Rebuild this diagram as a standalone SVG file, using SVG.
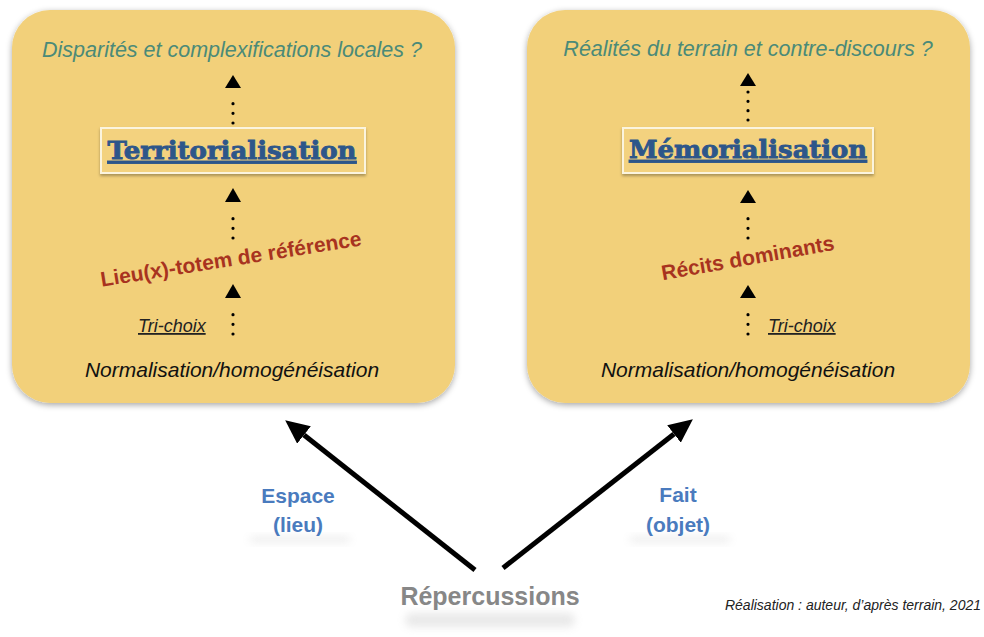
<svg xmlns="http://www.w3.org/2000/svg" width="984" height="637" viewBox="0 0 984 637">
  <defs>
    <filter id="boxShadow" x="-10%" y="-10%" width="120%" height="120%">
      <feDropShadow dx="0" dy="2" stdDeviation="3" flood-color="#000" flood-opacity="0.35"/>
    </filter>
    <filter id="titleShadow" x="-10%" y="-20%" width="120%" height="160%">
      <feDropShadow dx="0" dy="2" stdDeviation="1.5" flood-color="#000" flood-opacity="0.3"/>
    </filter>
    <filter id="blur" x="-20%" y="-100%" width="140%" height="300%">
      <feGaussianBlur stdDeviation="4"/>
    </filter>
    <marker id="bigHead" viewBox="0 -11 24 22" refX="0" refY="0" markerWidth="24" markerHeight="22" markerUnits="userSpaceOnUse" orient="auto">
      <path d="M0,-11 L24,0 L0,11 z" fill="#000"/>
    </marker>
    <style>
      .box { fill: #F2D07A; filter: url(#boxShadow); }
      .tbox { fill: #F3D27F; stroke: #FBF4DE; stroke-width: 2; filter: url(#titleShadow); }
      .q { font-family: "Liberation Sans", Arial, sans-serif; font-style: italic; font-size: 21.5px; fill: #4B8A78; text-anchor: middle; }
      .norm { font-family: "Liberation Sans", Arial, sans-serif; font-style: italic; font-size: 21px; fill: #111; text-anchor: middle; }
      .tri { font-family: "Liberation Sans", Arial, sans-serif; font-style: italic; font-size: 18px; fill: #222; text-decoration: underline; }
      .title { font-family: "DejaVu Serif", "Liberation Serif", serif; font-weight: bold; font-size: 25px; fill: #2D568A; stroke: #2D568A; stroke-width: 0.9; text-anchor: middle; text-decoration: underline; }
      .red { font-family: "Liberation Sans", Arial, sans-serif; font-weight: bold; font-size: 21px; fill: #A8331F; text-anchor: middle; }
      .blue { font-family: "Liberation Sans", Arial, sans-serif; font-weight: bold; font-size: 21px; fill: #4A7BBE; text-anchor: middle; }
      .rep { font-family: "Liberation Sans", Arial, sans-serif; font-weight: bold; font-size: 25px; fill: #878787; text-anchor: middle; }
      .credit { font-family: "Liberation Sans", Arial, sans-serif; font-style: italic; font-size: 14px; fill: #222; text-anchor: end; }
      .dots { stroke: #000; stroke-width: 3.2; stroke-linecap: round; fill: none; }
      .tri-head { fill: #000; }
      .big { stroke: #000; stroke-width: 5; fill: none; marker-end: url(#bigHead); }
      .refl { fill: #9a9a9a; opacity: 0.22; filter: url(#blur); }
    </style>
  </defs>

  <rect width="984" height="637" fill="#ffffff"/>

  <!-- Left panel -->
  <g id="panel-territorialisation">
    <rect class="box" x="12" y="10" width="443" height="393" rx="38" ry="38"/>
    <text class="q" x="232" y="57">Disparités et complexifications locales ?</text>
    <g id="node-territorialisation">
      <rect class="tbox" x="101" y="128" width="264" height="45"/>
      <text class="title" x="232" y="159" textLength="249" lengthAdjust="spacingAndGlyphs">Territorialisation</text>
    </g>
    <text class="red" x="232" y="266" transform="rotate(-9 232 266)">Lieu(x)-totem de référence</text>
    <text class="tri" x="138" y="332">Tri-choix</text>
    <text class="norm" x="232" y="377">Normalisation/homogénéisation</text>
  </g>

  <!-- Right panel -->
  <g id="panel-memorialisation">
    <rect class="box" x="527" y="10" width="443" height="393" rx="38" ry="38"/>
    <text class="q" x="748" y="56">Réalités du terrain et contre-discours ?</text>
    <g id="node-memorialisation">
      <rect class="tbox" x="623" y="128" width="250" height="45"/>
      <text class="title" x="748" y="158" textLength="238" lengthAdjust="spacingAndGlyphs">Mémorialisation</text>
    </g>
    <text class="red" x="749" y="265" transform="rotate(-10 749 265)">Récits dominants</text>
    <text class="tri" x="768" y="332">Tri-choix</text>
    <text class="norm" x="748" y="377">Normalisation/homogénéisation</text>
  </g>

  <!-- Bottom labels -->
  <g id="label-espace">
    <rect class="refl" x="250" y="537" width="100" height="5" rx="2.5"/>
    <text class="blue" x="298" y="503">Espace</text>
    <text class="blue" x="298" y="532">(lieu)</text>
  </g>
  <g id="label-fait">
    <rect class="refl" x="630" y="537" width="100" height="5" rx="2.5"/>
    <text class="blue" x="678" y="502">Fait</text>
    <text class="blue" x="678" y="532">(objet)</text>
  </g>
  <g id="node-repercussions">
    <rect class="refl" x="405" y="613" width="170" height="14" rx="7"/>
    <text class="rep" x="490" y="605">Répercussions</text>
  </g>
  <text class="credit" x="981" y="610">Réalisation : auteur, d’après terrain, 2021</text>

  <!-- Connectors -->
  <g id="connectors">
    <!-- left column -->
    <line class="dots" x1="233" y1="123" x2="233" y2="94" stroke-dasharray="0 9.67"/>
    <path class="tri-head" d="M233,75 L241,88 L225,88 z"/>
    <line class="dots" x1="233" y1="238" x2="233" y2="209" stroke-dasharray="0 9.67"/>
    <path class="tri-head" d="M233,188 L241,202 L225,202 z"/>
    <line class="dots" x1="233" y1="334" x2="233" y2="305" stroke-dasharray="0 9.67"/>
    <path class="tri-head" d="M233,284 L241,298 L225,298 z"/>
    <!-- right column -->
    <line class="dots" x1="748" y1="120" x2="748" y2="92" stroke-dasharray="0 9.33"/>
    <path class="tri-head" d="M748,73 L756,86 L740,86 z"/>
    <line class="dots" x1="748" y1="238" x2="748" y2="209" stroke-dasharray="0 9.67"/>
    <path class="tri-head" d="M748,190 L756,203 L740,203 z"/>
    <line class="dots" x1="748" y1="334" x2="748" y2="305" stroke-dasharray="0 9.67"/>
    <path class="tri-head" d="M748,285 L756,298 L740,298 z"/>
    <!-- big arrows -->
    <line class="big" x1="475" y1="570" x2="304" y2="435"/>
    <line class="big" x1="503" y1="568" x2="674" y2="434"/>
  </g>
</svg>
